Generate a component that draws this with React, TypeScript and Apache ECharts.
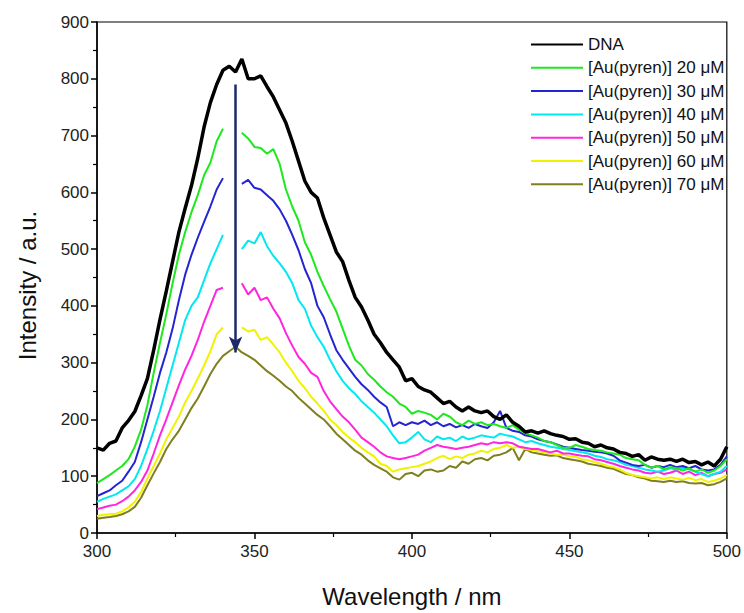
import React, { useEffect, useRef } from "react";
import * as echarts from "echarts";

const wavelengths = [
  300, 302, 304, 306, 308, 310, 312, 314, 316, 318, 320, 322, 324, 326, 328, 330, 332, 334, 336, 338,
  340, 342, 344, 346, 348, 350, 352, 354, 356, 358, 360, 362, 364, 366, 368, 370, 372, 374, 376, 378,
  380, 382, 384, 386, 388, 390, 392, 394, 396, 398, 400, 402, 404, 406, 408, 410, 412, 414, 416, 418,
  420, 422, 424, 426, 428, 430, 432, 434, 436, 438, 440, 442, 444, 446, 448, 450, 452, 454, 456, 458,
  460, 462, 464, 466, 468, 470, 472, 474, 476, 478, 480, 482, 484, 486, 488, 490, 492, 494, 496, 498, 500,
];

const dna = [
  150, 146, 158, 162, 185, 198, 214, 242, 272, 322, 376, 426, 478, 530, 572, 612, 660, 715, 758, 790,
  815, 822, 812, 835, 800, 800, 805, 786, 768, 745, 722, 690, 655, 620, 600, 590, 555, 525, 495, 478,
  445, 415, 398, 375, 350, 335, 318, 305, 292, 268, 272, 258, 252, 248, 238, 228, 232, 222, 215, 222,
  215, 212, 215, 205, 200, 208, 195, 188, 178, 180, 176, 180, 175, 172, 170, 165, 166, 160, 158, 152,
  155, 150, 148, 142, 140, 135, 138, 128, 134, 130, 128, 130, 126, 130, 124, 126, 120, 125, 118, 130, 152,
];

const au20 = [
  88, 95, 102, 110, 118, 130, 152, 182, 225, 282, 335, 385, 440, 490, 530, 565, 595, 630, 652, 690,
  712, null, null, 705, 695, 680, 678, 668, 676, 650, 605, 575, 550, 512, 490, 460, 435, 412, 390, 360,
  330, 305, 295, 280, 270, 258, 248, 240, 228, 222, 210, 215, 212, 208, 200, 210, 205, 195, 190, 198,
  192, 195, 190, 192, 188, 185, 190, 182, 176, 172, 168, 162, 160, 155, 150, 150, 155, 152, 148, 146,
  145, 142, 140, 138, 132, 130, 128, 120, 115, 118, 112, 116, 114, 110, 114, 108, 112, 106, 110, 118, 130,
];

const au30 = [
  65, 70, 75, 84, 92, 108, 125, 160, 200, 240, 282, 318, 360, 410, 455, 490, 520, 548, 575, 605,
  625, null, null, 615, 622, 608, 605, 595, 585, 570, 550, 525, 498, 465, 440, 400, 380, 350, 322, 305,
  290, 275, 262, 252, 240, 230, 222, 188, 195, 190, 195, 192, 198, 190, 195, 188, 192, 186, 190, 185,
  192, 188, 185, 195, 215, 185, 180, 178, 172, 170, 165, 162, 160, 156, 152, 150, 148, 146, 145, 143,
  142, 140, 136, 128, 124, 120, 118, 120, 115, 118, 116, 120, 116, 118, 114, 118, 112, 110, 112, 120, 135,
];

const au40 = [
  55, 60, 64, 68, 75, 82, 95, 118, 148, 180, 215, 255, 295, 335, 375, 400, 415, 445, 475, 500,
  525, null, null, 500, 515, 510, 530, 505, 488, 475, 460, 440, 410, 395, 365, 345, 328, 305, 285, 268,
  255, 245, 232, 222, 212, 200, 188, 172, 158, 160, 168, 178, 165, 160, 170, 165, 168, 162, 170, 165,
  168, 172, 170, 168, 175, 172, 170, 165, 160, 162, 158, 155, 152, 150, 148, 146, 144, 142, 140, 136,
  134, 130, 128, 125, 120, 118, 115, 112, 110, 108, 110, 114, 112, 115, 112, 108, 104, 100, 104, 108, 118,
];

const au50 = [
  42, 45, 48, 50, 56, 64, 75, 90, 110, 140, 172, 200, 230, 260, 288, 312, 340, 372, 400, 428,
  432, null, null, 440, 420, 432, 410, 415, 395, 378, 352, 330, 310, 298, 282, 275, 250, 232, 218, 205,
  195, 182, 168, 160, 152, 142, 135, 132, 130, 132, 135, 138, 145, 150, 155, 152, 150, 148, 150, 152,
  155, 158, 156, 160, 158, 160, 158, 152, 150, 148, 148, 145, 142, 145, 140, 140, 138, 136, 135, 130,
  128, 125, 122, 118, 115, 112, 110, 106, 105, 108, 104, 106, 110, 104, 108, 102, 106, 100, 104, 106, 112,
];

const au60 = [
  30, 32, 33, 34, 38, 45, 55, 72, 96, 118, 140, 165, 185, 205, 230, 250, 272, 295, 320, 350,
  362, null, null, 362, 355, 358, 340, 345, 332, 318, 300, 285, 268, 255, 240, 228, 215, 200, 190, 178,
  168, 160, 150, 142, 135, 122, 118, 108, 112, 114, 116, 118, 122, 126, 132, 136, 130, 135, 132, 138,
  140, 145, 142, 148, 150, 155, 150, 152, 148, 146, 144, 142, 140, 138, 138, 135, 134, 130, 128, 125,
  122, 118, 116, 112, 106, 102, 100, 98, 96, 98, 95, 98, 96, 94, 97, 93, 95, 90, 92, 96, 102,
];

const au70 = [
  25, 27, 28, 30, 33, 38, 46, 62, 84, 105, 125, 148, 165, 180, 200, 220, 237, 258, 280, 298,
  312, 320, 328, 318, 312, 305, 295, 285, 277, 268, 258, 250, 238, 228, 218, 208, 200, 188, 175, 165,
  155, 145, 138, 128, 120, 114, 108, 98, 94, 104, 106, 100, 110, 112, 108, 110, 118, 115, 126, 122,
  130, 132, 128, 136, 138, 142, 150, 128, 148, 142, 140, 138, 136, 137, 132, 130, 128, 126, 122, 120,
  118, 115, 113, 108, 104, 102, 98, 96, 92, 91, 90, 92, 90, 91, 88, 87, 88, 84, 86, 90, 96,
];

const seriesNames = [
  "DNA",
  "[Au(pyren)] 20 μM",
  "[Au(pyren)] 30 μM",
  "[Au(pyren)] 40 μM",
  "[Au(pyren)] 50 μM",
  "[Au(pyren)] 60 μM",
  "[Au(pyren)] 70 μM",
];
const seriesValues = [dna, au20, au30, au40, au50, au60, au70];
const seriesColors = ["#000000", "#1ee81e", "#2424d2", "#00e8f0", "#ff26e0", "#f2f200", "#7f7f1e"];
const seriesWidths = [3.5, 2, 2, 2, 2, 2, 2];

// arrow from DNA peak down to 70 µM peak
const arrowStart = [344, 790];
const arrowEnd = [344, 318];

const xTicks = { min: 300, max: 500, interval: 50 };
const yTicks = { min: 0, max: 900, interval: 100 };

export default function App() {
  const ref = useRef<HTMLDivElement>(null);

  useEffect(() => {
    if (!ref.current) return;
    const chart = echarts.init(ref.current, undefined, { renderer: "svg" });
    const font = "'Liberation Sans', Arial, sans-serif";

    const series: any[] = seriesNames.map((name, i) => ({
      name,
      type: "line",
      data: wavelengths.map((w, j) => [w, seriesValues[i][j]]),
      symbol: "none",
      showSymbol: false,
      connectNulls: false,
      color: seriesColors[i],
      lineStyle: { color: seriesColors[i], width: seriesWidths[i] },
      z: 10 - i,
    }));

    series.push({
      name: "arrow",
      type: "line",
      data: [],
      symbol: "none",
      z: 20,
      markLine: {
        silent: true,
        symbol: ["none", "arrow"],
        symbolSize: [10, 16],
        label: { show: false },
        lineStyle: { color: "#1c2a6a", width: 2.5, type: "solid" },
        data: [[{ coord: arrowStart }, { coord: arrowEnd }]],
      },
    });

    chart.setOption({
      animation: false,
      backgroundColor: "#ffffff",
      grid: {
        left: 97,
        right: 17,
        top: 22,
        bottom: 78,
        show: true,
        borderColor: "#000",
        borderWidth: 1.2,
      },
      legend: {
        data: seriesNames,
        orient: "vertical",
        left: 525,
        top: 31,
        itemWidth: 52,
        itemHeight: 12,
        itemGap: 6.3,
        itemStyle: { opacity: 0 },
        textStyle: { fontFamily: font, fontSize: 17, color: "#111" },
      },
      xAxis: {
        type: "value",
        min: xTicks.min,
        max: xTicks.max,
        interval: xTicks.interval,
        name: "Wavelength / nm",
        nameLocation: "middle",
        nameGap: 51,
        nameTextStyle: { fontFamily: font, fontSize: 24, color: "#111" },
        axisLine: { show: true, onZero: false, lineStyle: { color: "#000", width: 1.5 } },
        axisTick: { show: true, inside: false, length: 6, lineStyle: { color: "#000", width: 1.5 } },
        minorTick: { show: true, splitNumber: 2, length: 4, lineStyle: { color: "#000", width: 1.2 } },
        axisLabel: { fontFamily: font, fontSize: 17, color: "#222", margin: 10 },
        splitLine: { show: false },
      },
      yAxis: {
        type: "value",
        min: yTicks.min,
        max: yTicks.max,
        interval: yTicks.interval,
        name: "Intensity / a.u.",
        nameLocation: "middle",
        nameGap: 58,
        nameTextStyle: { fontFamily: font, fontSize: 24, color: "#111", padding: [0, 16, 0, 0] },
        axisLine: { show: true, lineStyle: { color: "#000", width: 1.5 } },
        axisTick: { show: true, inside: false, length: 6, lineStyle: { color: "#000", width: 1.5 } },
        minorTick: { show: true, splitNumber: 2, length: 4, lineStyle: { color: "#000", width: 1.2 } },
        axisLabel: { fontFamily: font, fontSize: 17, color: "#222", margin: 8 },
        splitLine: { show: false },
      },
      series,
    });

    return () => chart.dispose();
  }, []);

  return <div ref={ref} style={{ width: 744, height: 613, position: "absolute", left: 0, top: 0 }} />;
}
